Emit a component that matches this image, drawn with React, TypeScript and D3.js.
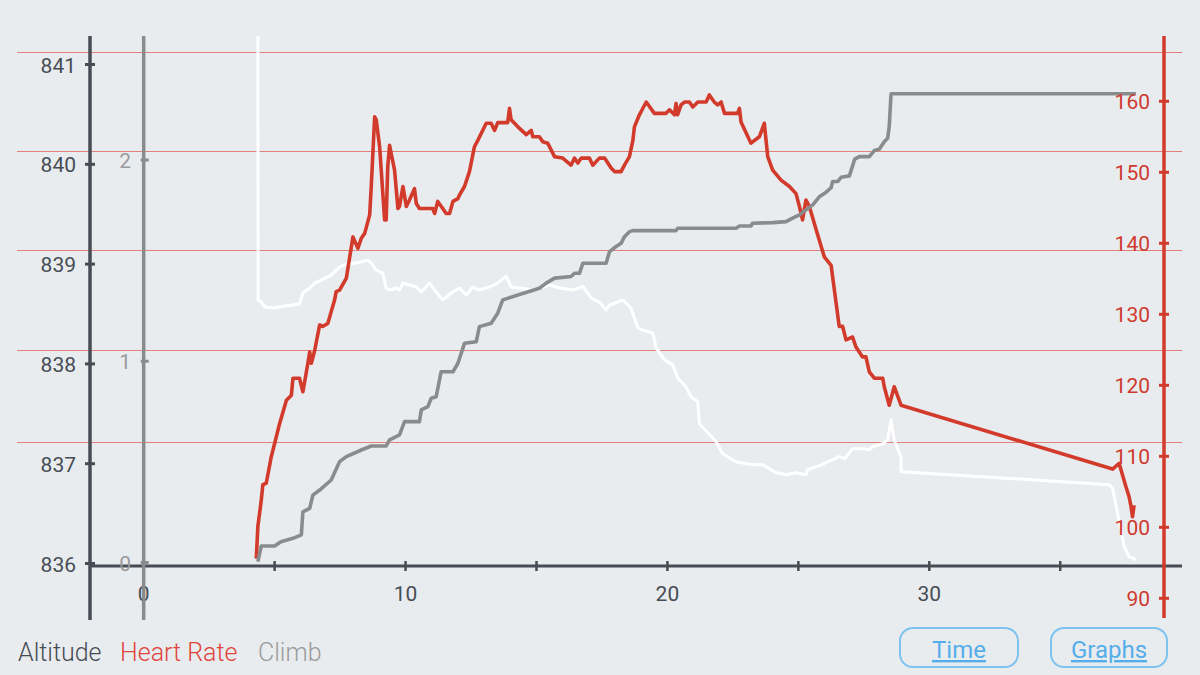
import React from "react";
import * as d3 from "d3";

// ---- data (time in minutes) ----
const heartRate: [number, number][] = [
  [4.3, 95.6], [4.36, 100.1], [4.49, 103.8], [4.55, 106.0], [4.68, 106.2], [4.87, 109.9], [5.0, 111.8],
  [5.19, 114.6], [5.45, 117.9], [5.64, 118.6], [5.7, 121.0], [5.95, 121.0], [6.08, 119.1], [6.27, 123.1],
  [6.34, 124.7], [6.4, 123.1], [6.53, 124.9], [6.72, 128.5], [6.84, 128.3], [7.03, 128.7], [7.29, 132.0],
  [7.35, 133.2], [7.48, 133.4], [7.74, 135.1], [7.99, 140.9], [8.18, 139.3], [8.31, 140.7], [8.44, 141.4],
  [8.63, 144.0], [8.69, 148.0], [8.82, 157.8], [8.88, 157.4], [9.01, 153.6], [9.2, 143.3], [9.26, 143.3],
  [9.32, 150.8], [9.39, 153.8], [9.58, 150.3], [9.71, 144.9], [9.77, 145.2], [9.9, 148.0], [10.03, 145.2],
  [10.15, 146.1], [10.34, 147.7], [10.41, 145.6], [10.53, 144.9], [11.04, 144.9], [11.11, 144.2],
  [11.23, 145.9], [11.42, 144.9], [11.55, 144.2], [11.68, 144.2], [11.81, 145.9], [12.0, 146.3],
  [12.06, 146.8], [12.25, 148.0], [12.44, 150.1], [12.63, 153.6], [12.76, 154.5], [13.08, 156.9],
  [13.27, 156.9], [13.4, 155.9], [13.52, 157.0], [13.9, 157.0], [13.97, 159.0], [14.03, 157.4],
  [14.29, 156.4], [14.61, 155.3], [14.8, 155.9], [14.86, 155.0], [15.11, 155.0], [15.24, 154.3],
  [15.43, 154.1], [15.69, 152.2], [16.0, 152.0], [16.32, 151.0], [16.45, 152.0], [16.58, 151.3],
  [16.71, 152.0], [17.02, 152.0], [17.15, 151.0], [17.4, 152.0], [17.6, 152.0], [17.85, 150.6],
  [17.98, 150.1], [18.23, 150.1], [18.36, 151.0], [18.55, 152.2], [18.68, 154.5], [18.74, 156.4],
  [18.93, 158.1], [19.19, 159.9], [19.5, 158.3], [19.95, 158.3], [20.08, 158.8], [20.27, 158.1],
  [20.33, 159.7], [20.39, 158.1], [20.52, 159.5], [20.65, 159.9], [20.84, 159.9], [20.97, 159.2],
  [21.16, 159.9], [21.48, 159.9], [21.6, 160.9], [21.79, 159.9], [21.92, 159.5], [22.05, 159.9],
  [22.18, 158.3], [22.68, 158.3], [22.75, 159.0], [22.81, 157.1], [23.19, 154.1], [23.51, 155.0],
  [23.7, 156.9], [23.83, 152.2], [24.02, 150.3], [24.34, 148.9], [24.66, 148.0], [24.91, 147.0],
  [25.04, 145.2], [25.16, 143.3], [25.29, 146.1], [25.42, 145.2], [25.68, 141.9], [25.99, 138.1],
  [26.25, 136.9], [26.56, 128.3], [26.69, 128.3], [26.82, 126.4], [27.07, 126.8], [27.2, 125.4],
  [27.45, 124.0], [27.58, 124.0], [27.71, 121.9], [27.9, 121.0], [28.22, 121.0], [28.28, 119.8],
  [28.47, 117.2], [28.66, 119.8], [28.92, 117.2], [37.0, 108.2], [37.25, 109.0], [37.51, 105.7],
  [37.63, 104.3], [37.7, 103.0], [37.76, 101.5], [37.82, 103.1],
];

const altitude: [number, number][] = [
  [4.36, 841.28], [4.37, 838.64], [4.49, 838.62], [4.62, 838.57], [4.94, 838.56], [5.13, 838.57],
  [5.95, 838.6], [6.08, 838.71], [6.34, 838.76], [6.53, 838.81], [6.78, 838.84], [7.16, 838.89],
  [7.48, 838.97], [7.74, 839.0], [8.12, 839.01], [8.56, 839.04], [8.69, 839.01], [8.88, 838.94],
  [9.13, 838.91], [9.26, 838.76], [9.39, 838.74], [9.65, 838.76], [9.77, 838.74], [9.9, 838.81],
  [10.03, 838.8], [10.41, 838.77], [10.6, 838.72], [10.92, 838.81], [11.17, 838.72], [11.42, 838.64],
  [11.74, 838.71], [12.06, 838.76], [12.32, 838.69], [12.57, 838.77], [12.82, 838.74], [13.08, 838.76],
  [13.46, 838.8], [13.84, 838.88], [14.03, 838.77], [14.35, 838.76], [14.86, 838.74], [15.11, 838.76],
  [15.5, 838.79], [15.88, 838.76], [16.39, 838.74], [16.64, 838.76], [16.77, 838.78], [17.09, 838.66],
  [17.4, 838.62], [17.66, 838.54], [17.79, 838.59], [18.29, 838.64], [18.61, 838.56], [18.87, 838.36],
  [19.06, 838.34], [19.44, 838.31], [19.57, 838.16], [19.89, 838.04], [20.2, 837.99], [20.39, 837.86],
  [20.71, 837.77], [20.9, 837.67], [21.16, 837.62], [21.22, 837.4], [21.86, 837.22], [22.11, 837.1],
  [22.62, 837.02], [23.26, 836.99], [23.64, 836.99], [24.15, 836.91], [24.53, 836.89], [24.91, 836.91],
  [25.29, 836.89], [25.35, 836.94], [25.8, 836.98], [26.31, 837.04], [26.56, 837.07], [26.76, 837.05],
  [27.07, 837.15], [27.45, 837.15], [27.71, 837.14], [27.84, 837.17], [28.22, 837.2], [28.41, 837.24],
  [28.54, 837.44], [28.66, 837.24], [28.79, 837.15], [28.92, 837.07], [28.93, 836.92], [36.87, 836.79],
  [37.0, 836.75], [37.19, 836.5], [37.32, 836.34], [37.44, 836.17], [37.63, 836.07], [37.89, 836.04],
];

const climb: [number, number][] = [
  [4.36, 0.004], [4.49, 0.082], [5.0, 0.082], [5.24, 0.103], [5.7, 0.12], [6.02, 0.137], [6.08, 0.252],
  [6.34, 0.269], [6.46, 0.335], [6.72, 0.36], [7.16, 0.41], [7.48, 0.501], [7.74, 0.526], [8.31, 0.559],
  [8.69, 0.579], [9.26, 0.579], [9.39, 0.609], [9.77, 0.634], [9.96, 0.7], [10.53, 0.7], [10.6, 0.758],
  [10.85, 0.774], [10.98, 0.816], [11.17, 0.824], [11.36, 0.948], [11.81, 0.948], [12.0, 0.99],
  [12.25, 1.089], [12.7, 1.097], [12.82, 1.172], [13.27, 1.189], [13.52, 1.239], [13.71, 1.305],
  [15.11, 1.363], [15.37, 1.388], [15.69, 1.413], [16.32, 1.421], [16.45, 1.437], [16.64, 1.437],
  [16.77, 1.487], [17.66, 1.487], [17.79, 1.545], [18.04, 1.57], [18.23, 1.586], [18.36, 1.619],
  [18.55, 1.644], [18.68, 1.649], [20.33, 1.649], [20.39, 1.661], [22.62, 1.661], [22.75, 1.672],
  [23.19, 1.672], [23.25, 1.686], [24.02, 1.689], [24.53, 1.694], [24.78, 1.711], [25.04, 1.727],
  [25.29, 1.752], [25.55, 1.777], [25.8, 1.817], [26.06, 1.84], [26.25, 1.862], [26.31, 1.893],
  [26.5, 1.893], [26.63, 1.914], [26.95, 1.921], [27.15, 2.004], [27.33, 2.017], [27.71, 2.017],
  [27.9, 2.047], [28.09, 2.054], [28.28, 2.091], [28.41, 2.108], [28.47, 2.166], [28.54, 2.329],
  [37.89, 2.329],
];

const heartRateZones = [112, 125, 139, 153, 167];
const altitudeTicks = [836, 837, 838, 839, 840, 841];
const heartRateTicks = [90, 100, 110, 120, 130, 140, 150, 160];
const climbTicks = [0, 1, 2];
const timeLabels = [0, 10, 20, 30];
const timeTicks = [0, 5, 10, 15, 20, 25, 30, 35];
const legendItems = ["Altitude", "Heart Rate", "Climb"];
const buttons = ["Time", "Graphs"];

const FONT = "Roboto, 'Noto Sans', sans-serif";
const BG = "#e9ecef";
const DARK = "#474c54";
const RED = "#d23a2c";
const GRAY = "#8a8b8d";

export default function App() {
  const x = d3.scaleLinear().domain([-2.05, 39.65]).range([90, 1182]);
  const yAlt = d3.scaleLinear().domain([836, 841]).range([563.5, 64.5]);
  const yHr = d3.scaleLinear().domain([100, 160]).range([527.3, 101.3]);
  const yClimb = d3.scaleLinear().domain([0, 2]).range([562.5, 160]);

  const altLine = d3.line<[number, number]>().x((d) => x(d[0])).y((d) => yAlt(d[1]));
  const hrLine = d3.line<[number, number]>().x((d) => x(d[0])).y((d) => yHr(d[1]));
  const climbLine = d3.line<[number, number]>().x((d) => x(d[0])).y((d) => yClimb(d[1]));

  const axisTop = 36;
  const axisBottom = 620;
  const xAxisY = 566;
  const leftX = 90;
  const climbX = x(0);
  const rightX = 1164;

  const legendColors = [DARK, "#e0443c", "#9b9b9b"];
  const legendX = [18, 120, 258];
  const btnX = [[900, 1018], [1051, 1167]];

  return (
    <svg
      width={1200}
      height={675}
      style={{ position: "fixed", left: 0, top: 0, display: "block" }}
      fontFamily={FONT}
    >
      <rect x={0} y={0} width={1200} height={675} fill={BG} />

      {/* heart rate zone lines */}
      {heartRateZones.map((z) => {
        const yy = Math.round(yHr(z)) + 0.5;
        return <line key={z} x1={17} x2={1182} y1={yy} y2={yy} stroke="#e2807c" strokeWidth={1} />;
      })}

      {/* series */}
      <path d={altLine(altitude) || ""} fill="none" stroke="#ffffff" strokeWidth={3} strokeLinejoin="round" />
      <path d={hrLine(heartRate) || ""} fill="none" stroke={RED} strokeWidth={3.6} strokeLinejoin="round" />
      <path d={climbLine(climb) || ""} fill="none" stroke={GRAY} strokeWidth={3.6} strokeLinejoin="round" />

      {/* x axis */}
      <line x1={leftX} x2={1182} y1={xAxisY} y2={xAxisY} stroke={DARK} strokeWidth={3} />
      {timeTicks.map((t) => (
        <line key={t} x1={x(t)} x2={x(t)} y1={xAxisY - 5} y2={xAxisY + 5} stroke={DARK} strokeWidth={2.5} />
      ))}
      {timeLabels.map((t) => (
        <text key={t} x={x(t)} y={594} textAnchor="middle" dominantBaseline="central" fontSize={21} fill={DARK}>
          {t}
        </text>
      ))}

      {/* altitude axis */}
      <line x1={leftX} x2={leftX} y1={axisTop} y2={axisBottom} stroke={DARK} strokeWidth={3.5} />
      {altitudeTicks.map((v) => (
        <g key={v}>
          <line x1={leftX - 5} x2={leftX + 5} y1={yAlt(v)} y2={yAlt(v)} stroke={DARK} strokeWidth={3} />
          <text x={76} y={yAlt(v) + 1} textAnchor="end" dominantBaseline="central" fontSize={21} fill={DARK}>
            {v}
          </text>
        </g>
      ))}

      {/* climb axis */}
      <line x1={climbX} x2={climbX} y1={axisTop} y2={axisBottom} stroke={GRAY} strokeWidth={3.5} />
      {climbTicks.map((v) => (
        <g key={v}>
          <line x1={climbX - 3} x2={climbX + 5} y1={yClimb(v)} y2={yClimb(v)} stroke={GRAY} strokeWidth={3} />
          <text x={131} y={yClimb(v) + 1} textAnchor="end" dominantBaseline="central" fontSize={21} fill="#9a9b9d">
            {v}
          </text>
        </g>
      ))}

      {/* heart rate axis */}
      <line x1={rightX} x2={rightX} y1={axisTop} y2={618} stroke={RED} strokeWidth={3.5} />
      {heartRateTicks.map((v) => (
        <g key={v}>
          <line x1={rightX - 5} x2={rightX + 5} y1={yHr(v)} y2={yHr(v)} stroke={RED} strokeWidth={3} />
          <text x={1150} y={yHr(v) + 1} textAnchor="end" dominantBaseline="central" fontSize={21} fill="#cf3a2e">
            {v}
          </text>
        </g>
      ))}

      {/* legend */}
      {legendItems.map((name, i) => (
        <text key={name} x={legendX[i]} y={661} fontSize={25} fontWeight={300} fill={legendColors[i]}>
          {name}
        </text>
      ))}

      {/* buttons */}
      {buttons.map((b, i) => (
        <g key={b}>
          <rect
            x={btnX[i][0]}
            y={628}
            width={btnX[i][1] - btnX[i][0]}
            height={39}
            rx={13}
            fill="none"
            stroke="#7cc3ef"
            strokeWidth={2}
          />
          <text
            x={(btnX[i][0] + btnX[i][1]) / 2}
            y={658}
            textAnchor="middle"
            fontSize={24}
            fill="#55aee9"
            textDecoration="underline"
          >
            {b}
          </text>
        </g>
      ))}
    </svg>
  );
}
